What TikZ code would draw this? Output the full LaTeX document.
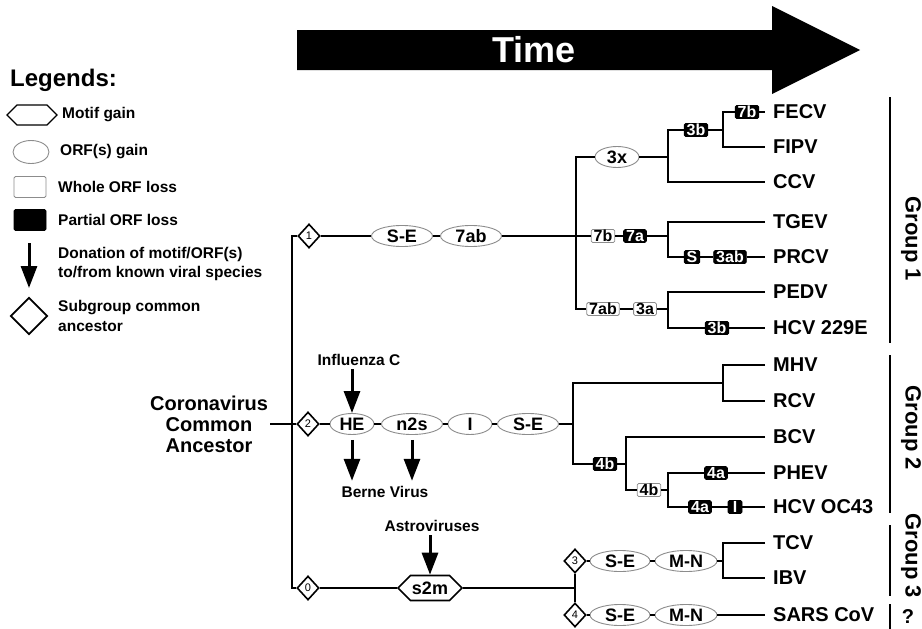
\documentclass[tikz,border=0pt]{standalone}
\usepackage{fontspec}
\setmainfont{Liberation Sans}
\usepackage{tikz}
\usetikzlibrary{positioning, arrows.meta, shapes.geometric, shapes.symbols}
\definecolor{rimgray}{HTML}{8C8C8C}

\begin{document}
\begin{tikzpicture}[x=1pt, y=-1pt,
  branch/.style={line width=2.6pt},
  donor/.style={-{Triangle[width=16pt,length=22pt]}, line width=3pt},
  orf/.style={ellipse, draw=rimgray, line width=0.9pt, fill=white, inner sep=0pt,
              minimum height=21pt, font=\fontsize{18}{18}\selectfont\bfseries},
  motif/.style={signal, signal to=west and east, draw, line width=1.6pt, fill=white,
                inner sep=0pt, font=\fontsize{18}{18}\selectfont\bfseries},
  wloss/.style={draw=rimgray, line width=0.8pt, fill=white, rounded corners=1.5pt,
                inner xsep=2.5pt, inner ysep=1pt, text height=11pt, text depth=0pt,
                minimum width=14pt, font=\fontsize{16}{16}\selectfont\bfseries},
  ploss/.style={wloss, draw=black, fill=black, text=white},
  anc/.style={diamond, draw, line width=1.6pt, fill=white, inner sep=0pt,
              minimum width=22pt, minimum height=24pt, font=\fontsize{11}{11}\selectfont},
  leaf/.style={anchor=west, inner xsep=8pt, inner ysep=0pt,
               font=\fontsize{20}{20}\selectfont\bfseries},
  donlbl/.style={font=\fontsize{15.5}{15.5}\selectfont\bfseries},
  lgd/.style={anchor=west, align=left, inner sep=0pt,
              font=\fontsize{15.5}{19.5}\selectfont\bfseries},
  grp/.style={rotate=-90, font=\fontsize{22}{22}\selectfont\bfseries}]
  \useasboundingbox (0,0) rectangle (922,629);

  % time arrow
  \fill (297,30) -- (772,30) -- (772,6) -- (860,50) -- (772,94) -- (772,70) -- (297,70) -- cycle;
  \node[text=white, font=\fontsize{36}{36}\selectfont\bfseries] (timelbl) at (534,50) {Time};

  % legend
  \node[anchor=base west, inner sep=0pt, font=\fontsize{24}{24}\selectfont\bfseries] (lgtitle) at (10,86) {Legends:};
  \node[motif, minimum width=50pt, minimum height=20pt, line width=1.2pt] (lgmotif) at (32,115) {};
  \node[orf, minimum width=36pt, minimum height=23pt] (lgorf) at (31,152) {};
  \node[wloss, minimum width=32pt, minimum height=21pt] (lgwhole) at (30,187) {};
  \node[ploss, minimum width=32pt, minimum height=21pt] (lgpart) at (30,220) {};
  \coordinate (lgdontop) at (29,243);
  \coordinate (lgdonbot) at (29,288);
  \draw[donor] (lgdontop) -- (lgdonbot);
  \node[anc, minimum width=37pt, minimum height=37pt, line width=1.8pt] (lganc) at (29,316) {};
  \node[lgd] (lgmotiftxt) at (62,115) {Motif gain};
  \node[lgd] (lgorftxt) at (60,152) {ORF(s) gain};
  \node[lgd] (lgwholetxt) at (58,187) {Whole ORF loss};
  \node[lgd] (lgparttxt) at (58,220) {Partial ORF loss};
  \node[lgd] (lgdontxt) at (58,264) {Donation of motif/ORF(s)\\to/from known viral species};
  \node[lgd] (lganctxt) at (58,316) {Subgroup common\\ancestor};

  % root
  \node[align=center, inner sep=2pt, font=\fontsize{20}{21}\selectfont\bfseries] (ancestor) at (209,424)
       {Coronavirus\\Common\\Ancestor};
  \coordinate (jroot) at (292,424);

  % group 1
  \node[anc] (d1) at (309,236) {1};
  \node[orf, minimum width=61pt] (se1) at (402,236) {S-E};
  \node[orf, minimum width=61pt] (ab7) at (471,236) {7ab};
  \node[orf, minimum width=44pt] (x3) at (617,157) {3x};
  \node[ploss] (b3b) at (696,130) {3b};
  \node[ploss] (b7b) at (747,112) {7b};
  \node[wloss] (b7w) at (603,236) {7b};
  \node[ploss] (b7a) at (635,236) {7a};
  \node[ploss] (bS) at (692,257) {S};
  \node[ploss] (b3ab) at (730,257) {3ab};
  \node[wloss] (ab7w) at (603,309) {7ab};
  \node[wloss] (a3w) at (645,309) {3a};
  \node[ploss] (b3c) at (717,328) {3b};
  \coordinate (j1) at (576,236);
  \coordinate (j2) at (668,157);
  \coordinate (j3) at (723,130);
  \coordinate (j4) at (668,236);
  \coordinate (j5) at (668,309);

  % group 2
  \node[anc] (d2) at (308,424) {2};
  \node[orf, minimum width=44pt] (he) at (352,424) {HE};
  \node[orf, minimum width=61pt] (n2s) at (412,424) {n2s};
  \node[orf, minimum width=44pt] (iorf) at (470,424) {I};
  \node[orf, minimum width=61pt] (se2) at (528,424) {S-E};
  \node[ploss] (b4b) at (605,464) {4b};
  \node[wloss] (w4b) at (649,490) {4b};
  \node[ploss] (b4a) at (716,473) {4a};
  \node[ploss] (b4c) at (700,507) {4a};
  \node[ploss] (bI) at (735,507) {I};
  \coordinate (j6) at (573,424);
  \coordinate (j7) at (723,383);
  \coordinate (j8) at (626,464);
  \coordinate (j9) at (668,490);

  % group 3 and SARS
  \node[anc] (d0) at (308,588) {0};
  \node[motif, minimum width=64pt, minimum height=25pt] (s2m) at (430,588) {s2m};
  \node[anc] (d3) at (575,561) {3};
  \node[anc] (d4) at (575,615) {4};
  \node[orf, minimum width=60pt] (se3) at (620,561) {S-E};
  \node[orf, minimum width=62pt] (mn3) at (686,561) {M-N};
  \node[orf, minimum width=60pt] (se4) at (620,615) {S-E};
  \node[orf, minimum width=62pt] (mn4) at (686,615) {M-N};
  \coordinate (j10) at (575,588);
  \coordinate (j11) at (723,561);

  % leaves
  \foreach \nm/\lab/\yy in {fecv/FECV/112, fipv/FIPV/147, ccv/CCV/182, tgev/TGEV/222,
      prcv/PRCV/257, pedv/PEDV/292, hcve/HCV 229E/328, mhv/MHV/365, rcv/RCV/401,
      bcv/BCV/437, phev/PHEV/473, hcvoc/HCV OC43/507, tcv/TCV/543, ibv/IBV/578,
      sars/SARS CoV/615}
    \node[leaf] (\nm) at (765,\yy) {\lab};

  % tree
  \draw[branch] (ancestor.east) -- (jroot);
  \draw[branch] (d1.west) -| (jroot) |- (d0.west);
  \draw[branch] (jroot) -- (d2.west);
  \draw[branch] (d1.east) -- (se1.west);
  \draw[branch] (se1.east) -- (ab7.west);
  \draw[branch] (ab7.east) -- (b7w.west);
  \draw[branch] (x3.west) -| (j1) |- (ab7w.west);
  \draw[branch] (x3.east) -- (j2);
  \draw[branch] (b3b.west) -| (j2) |- (ccv.west);
  \draw[branch] (b3b.east) -- (j3);
  \draw[branch] (b7b.west) -| (j3) |- (fipv.west);
  \draw[branch] (b7b.east) -- (fecv.west);
  \draw[branch] (b7w.east) -- (b7a.west);
  \draw[branch] (b7a.east) -- (j4);
  \draw[branch] (tgev.west) -| (j4) |- (bS.west);
  \draw[branch] (bS.east) -- (b3ab.west);
  \draw[branch] (b3ab.east) -- (prcv.west);
  \draw[branch] (ab7w.east) -- (a3w.west);
  \draw[branch] (a3w.east) -- (j5);
  \draw[branch] (pedv.west) -| (j5) |- (b3c.west);
  \draw[branch] (b3c.east) -- (hcve.west);

  \draw[branch] (d2.east) -- (he.west);
  \draw[branch] (he.east) -- (n2s.west);
  \draw[branch] (n2s.east) -- (iorf.west);
  \draw[branch] (iorf.east) -- (se2.west);
  \draw[branch] (se2.east) -- (j6);
  \draw[branch] (j7) -| (j6) |- (b4b.west);
  \draw[branch] (mhv.west) -| (j7) |- (rcv.west);
  \draw[branch] (b4b.east) -- (j8);
  \draw[branch] (bcv.west) -| (j8) |- (w4b.west);
  \draw[branch] (w4b.east) -- (j9);
  \draw[branch] (b4a.west) -| (j9) |- (b4c.west);
  \draw[branch] (b4a.east) -- (phev.west);
  \draw[branch] (b4c.east) -- (bI.west);
  \draw[branch] (bI.east) -- (hcvoc.west);

  \draw[branch] (d0.east) -- (s2m.west);
  \draw[branch] (s2m.east) -- (j10);
  \draw[branch] (d3.south) -- (d4.north);
  \draw[branch] (d3.east) -- (se3.west);
  \draw[branch] (se3.east) -- (mn3.west);
  \draw[branch] (mn3.east) -- (j11);
  \draw[branch] (tcv.west) -| (j11) |- (ibv.west);
  \draw[branch] (d4.east) -- (se4.west);
  \draw[branch] (se4.east) -- (mn4.west);
  \draw[branch] (mn4.east) -- (sars.west);

  % donations
  \node[donlbl] (influ) at (359,360) {Influenza C};
  \node[donlbl] (berne) at (385,492) {Berne Virus};
  \node[donlbl] (astro) at (432,526) {Astroviruses};
  \draw[donor] (he.north |- influ.south) -- (he.north);
  \draw[donor, shorten <=5pt, shorten >=2pt] (he.south) -- (he.south |- berne.north);
  \draw[donor, shorten <=5pt, shorten >=2pt] (n2s.south) -- (n2s.south |- berne.north);
  \draw[donor] (s2m.north |- astro.south) -- (s2m.north);

  % groups
  \foreach \ya/\yb in {97/343, 355/513, 525/596, 604/629}
    \draw[branch] (890,\ya) -- (890,\yb);
  \node[grp] (grp1) at (911,239) {Group 1};
  \node[grp] (grp2) at (911,428) {Group 2};
  \node[grp] (grp3) at (911,556) {Group 3};
  \node[font=\fontsize{20}{20}\selectfont\bfseries] (grpq) at (908,617) {?};
\end{tikzpicture}
\end{document}
